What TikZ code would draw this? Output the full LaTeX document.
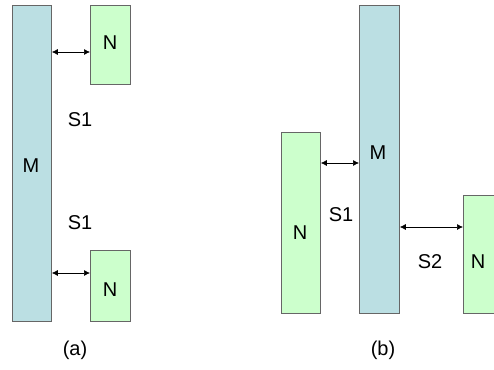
\documentclass[tikz,border=0pt]{standalone}
\usepackage{fontspec}
\setmainfont{Liberation Sans}
\usetikzlibrary{calc}
\usetikzlibrary{arrows.meta}

\begin{document}
\begin{tikzpicture}[x=1pt, y=-1pt]
        % ================= styles =================
        \tikzset{
            % blue main block (M)
            mbox/.style={rectangle, draw=black!60, line width=0.8pt, fill={rgb,255:red,187;green,223;blue,227}, anchor=north west, inner sep=0pt},
            % green neighbour block (N)
            nbox/.style={rectangle, draw=black!60, line width=0.8pt, fill={rgb,255:red,204;green,255;blue,204}, anchor=north west, inner sep=0pt},
            % labels
            lbl/.style={font=\fontsize{20}{22}\selectfont, inner sep=0pt},
            % spacing arrows
            gap/.style={{Latex[length=6pt,width=6pt]}-{Latex[length=6pt,width=6pt]}, line width=0.7pt, black}
        }
        \useasboundingbox (0,0) rectangle (494,369);

        % ================= (a) =================
        \node[mbox, minimum width=39, minimum height=316] (Ma) at (12,5) {};
        \node[nbox, minimum width=40, minimum height=79] (Na1) at (90,5) {};
        \node[nbox, minimum width=40, minimum height=71] (Na2) at (90,250) {};

        \draw[gap] (Ma.east |- 0,52) -- (Na1.west |- 0,52);
        \draw[gap] (Ma.east |- 0,273) -- (Na2.west |- 0,273);

        \node[lbl] (Ma_t) at (31,166) {M};
        \node[lbl] (Na1_t) at (110,43) {N};
        \node[lbl] (Na2_t) at (110,290) {N};
        \node[lbl] (Sa1) at (80,120) {S1};
        \node[lbl] (Sa2) at (80,223) {S1};
        \node[lbl] (cap_a) at (75,350) {(a)};

        % ================= (b) =================
        \node[mbox, minimum width=40, minimum height=308] (Mb) at (359,5) {};
        \node[nbox, minimum width=39, minimum height=181] (Nb1) at (281,132) {};
        \node[nbox, minimum width=40, minimum height=118] (Nb2) at (463,195) {};

        \draw[gap] (Nb1.east |- 0,163) -- (Mb.west |- 0,163);
        \draw[gap] (Mb.east |- 0,227) -- (Nb2.west |- 0,227);

        \node[lbl] (Mb_t) at (378,153) {M};
        \node[lbl] (Nb1_t) at (300,233) {N};
        \node[lbl] (Nb2_t) at (478,262) {N};
        \node[lbl] (Sb1) at (341,215) {S1};
        \node[lbl] (Sb2) at (430,262) {S2};
        \node[lbl] (cap_b) at (383,350) {(b)};

    \end{tikzpicture}
\end{document}
